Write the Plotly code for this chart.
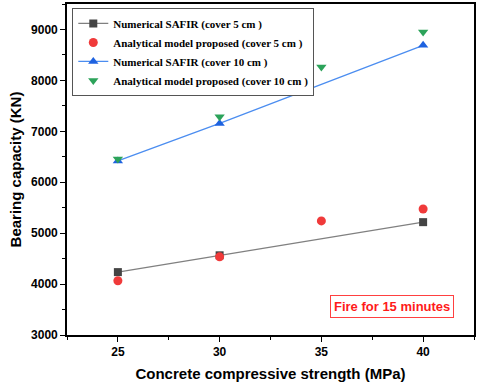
import plotly.graph_objects as go

strength = [25, 30, 35, 40]
safir_5 = [4235, 4565, None, 5216]
analytical_5 = [4065, 4535, 5240, 5475]
safir_10 = [6418, 7155, None, 8688]
analytical_10 = [6455, 7285, 8265, 8950]

x_ticks = [25, 30, 35, 40]
y_ticks = [3000, 4000, 5000, 6000, 7000, 8000, 9000]

def pts(xs, ys):
    px, py = [], []
    for a, b in zip(xs, ys):
        if b is not None:
            px.append(a); py.append(b)
    return px, py

fig = go.Figure()
x1, y1 = pts(strength, safir_5)
fig.add_trace(go.Scatter(x=x1, y=y1, mode="lines+markers", name="<b>Numerical SAFIR (cover 5 cm )</b>",
                         line=dict(color="#808080", width=1.3),
                         marker=dict(symbol="square", size=8, color="#444444")))
fig.add_trace(go.Scatter(x=strength, y=analytical_5, mode="markers", name="<b>Analytical model proposed (cover 5 cm )</b>",
                         marker=dict(symbol="circle", size=9, color="#f03a3a")))
x3, y3 = pts(strength, safir_10)
fig.add_trace(go.Scatter(x=x3, y=y3, mode="lines+markers", name="<b>Numerical SAFIR (cover 10 cm )</b>",
                         line=dict(color="#4b8df0", width=1.3),
                         marker=dict(symbol="triangle-up", size=9, color="#1e62e0")))
fig.add_trace(go.Scatter(x=strength, y=analytical_10, mode="markers", name="<b>Analytical model proposed (cover 10 cm )</b>",
                         marker=dict(symbol="triangle-down", size=9, color="#2ca35a")))

fig.update_layout(
    width=480, height=391,
    margin=dict(l=67, r=6, t=4, b=56, autoexpand=False),
    plot_bgcolor="white", paper_bgcolor="white",
    showlegend=True,
    legend=dict(x=0.013, y=0.988, xanchor="left", yanchor="top",
                bgcolor="white", bordercolor="#555555", borderwidth=1,
                font=dict(family="Liberation Serif", size=11, color="black"),
                itemwidth=30, tracegroupgap=0),
    annotations=[dict(x=38.45, y=3555, xref="x", yref="y", text="<b>Fire for 15 minutes</b>",
                      showarrow=False, font=dict(family="Arial, Liberation Sans", size=13, color="#ff1a1a"),
                      bordercolor="#ff4040", borderwidth=1, borderpad=3, bgcolor="white")],
)
fig.update_xaxes(range=[22.5, 42.5], tickvals=x_ticks, ticktext=["<b>%d</b>" % v for v in x_ticks],
                 ticks="outside", ticklen=5, tickwidth=1.3, tickcolor="black", automargin=False,
                 minor=dict(dtick=2.5, tick0=22.5, ticks="outside", ticklen=3, tickcolor="black", showgrid=False),
                 showline=True, linecolor="black", linewidth=1.6, mirror=True, showgrid=False, zeroline=False,
                 tickfont=dict(family="Arial, Liberation Sans", size=12, color="black"),
                 title=dict(text="<b>Concrete compressive strength (MPa)</b>",
                            font=dict(family="Arial, Liberation Sans", size=15, color="black"), standoff=10))
fig.update_yaxes(range=[3000, 9500], tickvals=y_ticks, ticktext=["<b>%d</b>" % v for v in y_ticks],
                 ticks="outside", ticklen=5, tickwidth=1.3, tickcolor="black", automargin=False,
                 minor=dict(dtick=500, tick0=3000, ticks="outside", ticklen=3, tickcolor="black", showgrid=False),
                 showline=True, linecolor="black", linewidth=1.6, mirror=True, showgrid=False, zeroline=False,
                 tickfont=dict(family="Arial, Liberation Sans", size=12, color="black"),
                 title=dict(text="<b>Bearing capacity (KN)</b>",
                            font=dict(family="Arial, Liberation Sans", size=15, color="black"), standoff=6))

fig.write_html("out.html", config={"displayModeBar": False},
               post_script="document.body.style.margin='0px';document.body.style.overflow='hidden';")
